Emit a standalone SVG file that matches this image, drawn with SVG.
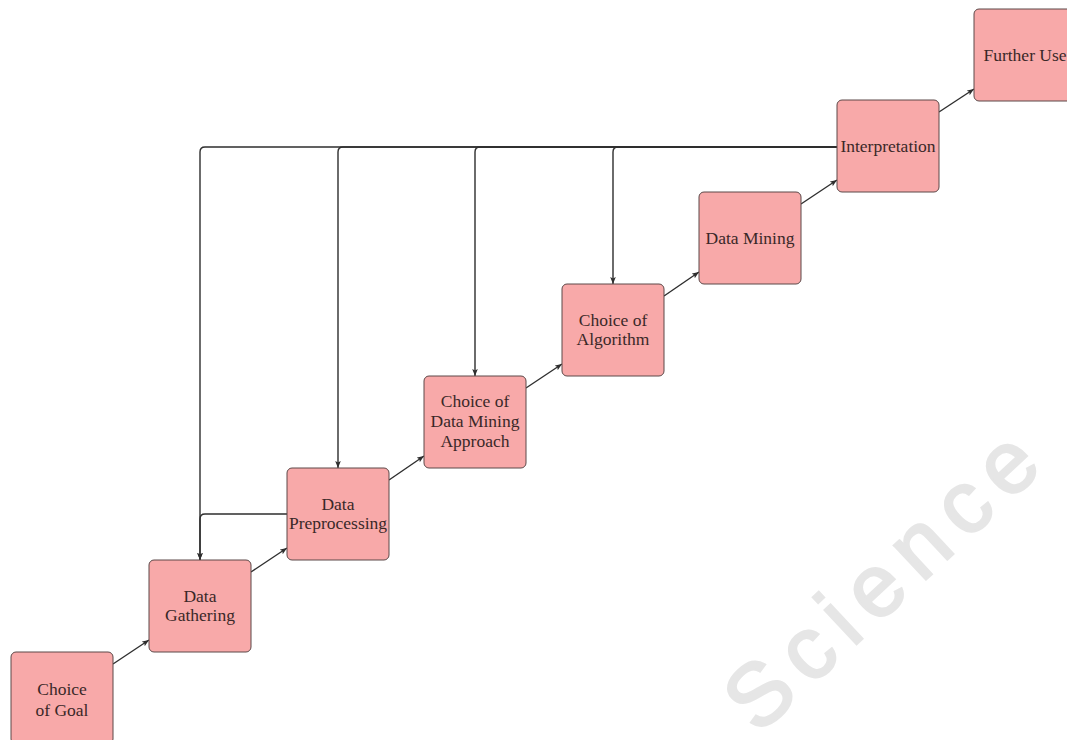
<svg xmlns="http://www.w3.org/2000/svg" width="1067" height="740" viewBox="0 0 1067 740">
<defs>
<style>
.box{fill:#f8a9a9;stroke:#5c4848;stroke-width:1}
.lbl{font-family:"Liberation Serif","Times New Roman",serif;font-size:17.5px;fill:#3a2828;text-anchor:middle}
.con{fill:none;stroke:#2e2e2e;stroke-width:1.4}
.wm{font-family:"Liberation Sans",Arial,sans-serif;font-size:88px;fill:#e6e6e6;stroke:#e6e6e6;stroke-width:2.5;text-anchor:middle;letter-spacing:13px}
</style>
<marker id="ah" viewBox="0 0 10 10" refX="10" refY="5" markerWidth="7" markerHeight="7" markerUnits="userSpaceOnUse" orient="auto">
<path d="M0,1 L10,5 L0,9 L2,5 Z" fill="#2e2e2e"/>
</marker>
</defs>
<rect width="1067" height="740" fill="#fff"/>
<g id="watermark">
<text class="wm" x="906" y="598" transform="rotate(-43 906 598)">Science</text>
</g>
<g id="connectors">
<path class="con" marker-end="url(#ah)" d="M113,664 L149,640"/>
<path class="con" marker-end="url(#ah)" d="M251,572 L287,548"/>
<path class="con" marker-end="url(#ah)" d="M389,480 L424,456"/>
<path class="con" marker-end="url(#ah)" d="M526,388 L562,364"/>
<path class="con" marker-end="url(#ah)" d="M664,296 L699,272"/>
<path class="con" marker-end="url(#ah)" d="M801,204 L837,180"/>
<path class="con" marker-end="url(#ah)" d="M939,112 L974,89"/>
<path class="con" marker-end="url(#ah)" d="M837,147 H618 Q613,147 613,152 V284"/>
<path class="con" marker-end="url(#ah)" d="M837,147 H480 Q475,147 475,152 V376"/>
<path class="con" marker-end="url(#ah)" d="M837,147 H343 Q338,147 338,152 V468"/>
<path class="con" marker-end="url(#ah)" d="M837,147 H205 Q200,147 200,152 V560"/>
<path class="con" marker-end="url(#ah)" d="M287,514 H205 Q200,514 200,519 V560"/>
</g>
<g id="n-goal"><rect class="box" x="11" y="652" width="102" height="92" rx="5"/><text class="lbl" x="62" y="695">Choice</text><text class="lbl" x="62" y="716">of Goal</text></g>
<g id="n-gathering"><rect class="box" x="149" y="560" width="102" height="92" rx="5"/><text class="lbl" x="200" y="602">Data</text><text class="lbl" x="200" y="621">Gathering</text></g>
<g id="n-preprocessing"><rect class="box" x="287" y="468" width="102" height="92" rx="5"/><text class="lbl" x="338" y="510">Data</text><text class="lbl" x="338" y="529">Preprocessing</text></g>
<g id="n-approach"><rect class="box" x="424" y="376" width="102" height="92" rx="5"/><text class="lbl" x="475" y="407">Choice of</text><text class="lbl" x="475" y="427">Data Mining</text><text class="lbl" x="475" y="447">Approach</text></g>
<g id="n-algorithm"><rect class="box" x="562" y="284" width="102" height="92" rx="5"/><text class="lbl" x="613" y="326">Choice of</text><text class="lbl" x="613" y="345">Algorithm</text></g>
<g id="n-mining"><rect class="box" x="699" y="192" width="102" height="92" rx="5"/><text class="lbl" x="750" y="244">Data Mining</text></g>
<g id="n-interpretation"><rect class="box" x="837" y="100" width="102" height="92" rx="5"/><text class="lbl" x="888" y="152">Interpretation</text></g>
<g id="n-further"><rect class="box" x="974" y="9" width="102" height="92" rx="5"/><text class="lbl" x="1025" y="61">Further Use</text></g>
</svg>
